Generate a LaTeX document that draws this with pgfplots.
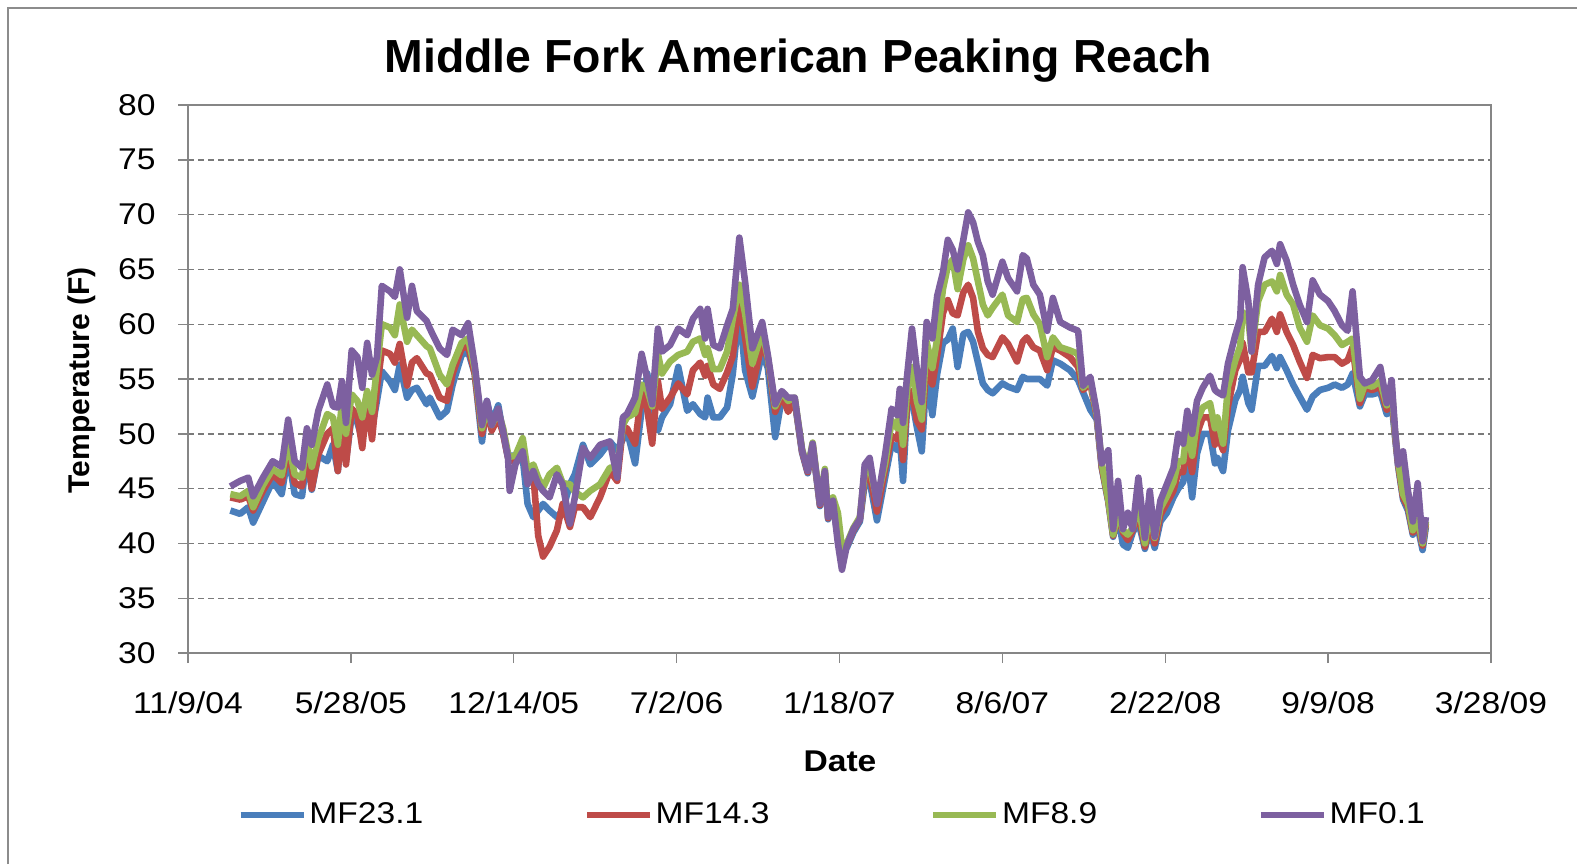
\documentclass[border=0pt]{standalone}
\usepackage{pgfplots}
\pgfplotsset{compat=1.18}
\usepackage{pgfplotstable}
\usepackage{fontspec}
\setmainfont{Liberation Sans}[FakeStretch=1.12]
\newfontfamily\plainfont{Liberation Sans}
\definecolor{cBlue}{HTML}{4A7EBB}
\definecolor{cRed}{HTML}{BE4B48}
\definecolor{cGreen}{HTML}{98B954}
\definecolor{cPurple}{HTML}{7D60A0}
\definecolor{axisgray}{HTML}{868686}
\definecolor{gridgray}{HTML}{7A7A7A}
\definecolor{framegray}{HTML}{8C8C8C}

\pgfplotstableread{
day b r g p
52 43.0 44.2 44.5 45.2
64 42.7 44.0 44.3 45.7
74 43.3 44.3 44.8 46.0
80 41.9 43.0 43.3 44.3
92 43.8 44.8 45.3 46.0
104 45.7 46.3 46.8 47.5
115 44.5 45.5 46.2 47.0
123 48.1 48.7 49.3 51.3
131 44.5 45.5 46.3 47.5
140 44.3 45.2 46.0 46.9
146 48.1 48.5 49.5 50.5
152 44.9 45.0 47.0 49.0
160 48.0 48.1 49.5 52.1
171 47.5 50.0 51.8 54.5
178 49.0 50.5 51.5 52.5
184 46.6 46.6 49.0 52.4
189 50.5 51.1 52.8 54.8
194 47.5 47.2 50.0 51.0
201 51.7 52.3 53.6 57.6
208 51.0 51.7 53.0 57.0
214 49.5 48.7 51.5 54.2
220 52.4 53.0 53.9 58.3
226 50.5 49.5 52.0 55.4
232 53.0 54.2 56.0 57.0
238 55.7 57.6 60.0 63.5
248 54.8 57.3 59.7 63.0
254 54.0 56.5 59.0 62.5
260 56.3 58.2 61.8 65.0
269 53.3 54.4 58.4 60.6
275 54.0 56.5 59.5 63.5
281 54.2 56.9 59.0 61.2
293 52.7 55.5 58.0 60.3
297 53.3 55.4 57.8 59.6
309 51.5 53.3 55.4 57.8
318 52.1 53.0 54.5 57.2
325 54.5 55.5 56.3 59.5
336 57.2 57.8 58.3 59.0
344 57.5 58.0 58.7 60.1
352 55.5 55.5 56.0 56.3
361 49.3 50.0 50.5 50.8
367 53.0 52.0 52.3 53.0
373 51.0 50.3 50.8 50.8
381 52.6 51.5 52.0 52.3
387 50.0 50.0 50.5 50.2
393 47.8 47.8 48.2 47.8
395 48.0 47.5 47.9 44.8
402 48.0 47.6 48.0 47.2
411 47.8 47.9 49.6 48.4
417 43.6 46.6 46.6 45.4
424 42.4 46.3 47.2 46.6
430 43.0 40.7 46.0 45.4
436 43.6 38.8 45.1 44.8
444 43.0 39.7 46.3 44.2
453 42.4 41.2 46.9 46.3
460 43.0 43.6 45.5 45.4
469 45.4 41.5 45.4 41.8
475 46.3 43.3 44.7 44.2
485 49.0 43.3 44.2 48.7
494 47.2 42.4 44.8 47.8
506 48.1 44.2 45.4 49.0
518 49.3 46.6 46.9 49.3
527 48.5 45.7 47.0 46.0
534 49.5 50.6 50.8 51.5
539 50.3 50.5 51.5 51.8
549 47.3 49.1 51.9 53.3
557 52.2 53.8 54.5 57.3
564 55.5 52.2 54.0 55.0
570 50.9 49.1 52.5 52.7
577 50.3 54.8 57.3 59.6
582 51.5 52.3 55.5 57.5
592 52.7 53.3 56.6 58.1
602 56.1 54.6 57.2 59.6
613 52.1 53.6 57.5 59.0
620 52.7 55.8 58.4 60.5
629 51.8 56.5 58.7 61.4
635 51.5 55.3 57.2 58.7
638 53.3 56.2 57.8 61.4
645 51.5 54.5 55.9 58.1
653 51.5 54.1 55.9 57.8
662 52.4 55.6 57.5 59.9
669 55.5 57.1 60.5 61.4
677 61.5 62.4 63.6 67.9
684 55.8 58.8 61.0 63.9
693 53.4 54.3 56.4 57.8
705 57.4 58.3 59.3 60.2
712 56.0 56.8 57.0 57.2
721 49.7 52.0 52.5 52.7
729 53.2 53.5 53.8 53.9
737 52.5 52.0 53.0 53.3
745 53.0 53.1 53.3 53.3
754 48.3 48.4 48.6 48.5
761 46.4 46.5 46.8 46.6
767 48.8 49.0 49.2 49.1
776 43.4 43.5 43.7 43.6
782 46.3 46.5 46.8 46.6
786 42.2 42.3 42.6 42.4
792 43.7 43.8 44.2 43.9
798 40.5 40.7 42.8 40.0
803 39.5 39.6 39.6 37.6
809 39.6 39.8 40.0 39.8
817 41.0 41.2 41.4 41.3
825 42.0 42.2 42.4 42.2
831 45.5 46.0 46.5 47.2
837 45.7 46.3 47.0 47.8
846 42.1 42.9 43.9 43.6
856 46.0 46.8 47.3 48.1
864 49.1 49.8 51.2 52.3
871 48.5 49.5 50.5 51.7
874 49.7 50.6 52.2 54.1
878 45.7 47.6 49.0 51.0
883 52.5 52.8 54.0 55.3
889 53.1 53.9 56.1 59.6
895 50.6 51.2 53.0 55.9
901 48.4 50.4 51.3 52.9
907 55.5 56.7 58.4 60.2
914 51.7 54.5 56.0 58.7
920 55.5 57.2 58.7 62.6
927 58.3 61.0 63.2 64.7
933 58.6 62.2 65.3 67.7
939 59.6 61.0 65.9 66.8
945 56.1 60.8 63.2 65.0
952 59.1 62.9 65.9 67.7
958 59.3 63.6 67.2 70.2
964 58.4 62.4 66.0 69.3
970 56.5 59.3 63.9 67.5
976 54.6 57.8 61.8 66.3
982 54.0 57.2 60.8 63.9
988 53.7 57.0 61.5 62.7
1000 54.6 58.8 62.7 65.7
1007 54.3 58.2 60.8 64.2
1018 54.0 56.6 60.2 63.0
1025 55.2 58.4 62.3 66.3
1030 55.0 58.8 62.4 66.0
1038 55.0 57.9 60.9 63.6
1046 55.0 57.6 60.0 62.7
1055 54.4 55.8 57.0 59.4
1062 56.7 57.9 58.8 62.4
1071 56.4 57.6 57.9 60.2
1083 55.8 57.0 57.6 59.7
1093 54.9 56.1 57.3 59.4
1099 53.8 54.0 54.2 54.4
1108 52.2 54.6 54.9 55.2
1116 51.3 51.5 51.7 51.9
1122 46.9 47.0 47.3 47.3
1130 43.8 43.9 44.0 48.5
1136 40.6 40.7 40.8 41.3
1142 42.5 42.7 43.0 45.7
1148 39.9 41.0 41.2 41.3
1154 39.6 40.3 40.8 42.8
1160 41.0 41.2 41.4 41.3
1167 42.0 42.8 43.6 46.0
1175 39.5 39.7 40.0 40.5
1181 41.3 41.9 43.0 44.8
1187 39.6 40.0 40.5 40.6
1194 42.0 42.6 43.2 43.9
1202 42.8 43.7 44.3 45.4
1210 44.2 44.8 45.6 46.9
1216 45.0 46.5 47.5 50.0
1222 45.6 46.5 47.5 49.1
1227 48.2 49.4 50.6 52.1
1233 44.2 46.5 48.0 50.0
1239 48.2 50.0 51.2 53.0
1246 50.0 51.5 52.4 54.2
1255 50.0 51.5 52.8 55.3
1261 47.3 49.0 50.5 54.0
1264 47.8 50.0 51.5 53.8
1271 46.6 48.5 49.1 53.5
1277 50.3 52.5 54.3 56.4
1286 53.1 55.8 56.7 59.0
1292 54.0 56.8 58.0 60.5
1295 55.2 58.3 61.1 65.2
1302 52.8 55.6 60.5 62.1
1306 52.2 55.6 57.5 57.5
1314 56.2 59.3 62.1 63.6
1322 56.2 59.3 63.6 66.1
1331 57.1 60.5 63.9 66.7
1337 56.0 59.3 63.0 65.5
1341 57.0 60.9 64.5 67.3
1349 55.8 59.3 62.7 65.8
1357 54.5 58.1 61.8 63.6
1365 53.4 56.6 59.7 61.8
1374 52.2 55.1 58.4 60.2
1381 53.4 57.2 60.8 64.0
1390 54.0 56.9 59.9 62.7
1400 54.2 57.0 59.6 62.1
1408 54.5 57.0 59.0 61.2
1417 54.2 56.4 58.1 59.9
1424 54.5 56.7 58.4 59.4
1430 55.5 57.9 58.7 63.0
1439 52.5 52.8 53.2 55.2
1445 53.6 54.2 54.5 54.6
1454 53.6 54.0 54.3 54.9
1464 53.8 54.3 54.8 56.1
1472 51.8 52.2 52.6 52.8
1478 52.8 53.6 54.3 54.9
1482 49.8 50.0 50.2 50.5
1486 47.0 47.2 47.5 47.2
1492 44.0 44.2 44.5 48.4
1498 43.0 43.3 43.6 44.8
1504 40.8 41.0 41.2 42.0
1510 41.5 41.8 42.3 45.5
1516 39.4 39.8 40.0 40.2
1520 41.5 41.8 42.0 42.4
}\mfdata

\begin{document}
\begin{tikzpicture}
\useasboundingbox (0,0) rectangle (788.5pt,432pt);
\draw[framegray, line width=1.3pt] (4pt,0pt) -- (4pt,428pt) -- (788.5pt,428pt);
\begin{axis}[
  at={(94pt,105.5pt)}, anchor=south west,
  scale only axis, width=651.5pt, height=274pt,
  xmin=0, xmax=1600, ymin=30, ymax=80,
  xtick={0,200,...,1600},
  xticklabels={11/9/04,5/28/05,12/14/05,7/2/06,1/18/07,8/6/07,2/22/08,9/9/08,3/28/09},
  ytick={30,35,...,80},
  xtick pos=bottom, ytick pos=left,
  tick align=outside, major tick length=5pt,
  tick style={axisgray, line width=0.7pt},
  axis line style={axisgray, line width=0.7pt},
  ymajorgrids,
  major grid style={gridgray, line width=0.7pt, dash pattern=on 3pt off 2pt},
  /pgf/number format/assume math mode=true,
  tick label style={font=\fontsize{15}{18}\selectfont, text=black},
  xticklabel style={anchor=north, inner sep=0pt, yshift=-14pt},
  yticklabel style={anchor=east, inner sep=0pt, xshift=-11pt},
  title={Middle Fork American Peaking Reach},
  title style={font=\plainfont\bfseries\fontsize{23.2}{28}\selectfont, at={(axis description cs:0.4685,1.038)}, anchor=base},
  xlabel={Date},
  xlabel style={font=\bfseries\fontsize{15}{18}\selectfont, at={(axis description cs:0.5004,-0.197)}, anchor=center},
  ylabel={Temperature (F)},
  ylabel style={font=\plainfont\bfseries\fontsize{15}{18}\selectfont, at={(axis description cs:-0.0815,0.498)}, anchor=center},
  legend style={at={(axis description cs:0.4945,-0.2956)}, anchor=center, draw=none, fill=none,
    font=\fontsize{15}{18}\selectfont, nodes={inner sep=1.2pt},
    /tikz/every even column/.append style={column sep=79pt}},
  legend columns=4,
  legend image code/.code={\draw[#1] (0pt,0pt) -- (31.5pt,0pt);},
  every axis plot/.append style={line width=3.3pt, line join=round, no markers},
]
\addplot[cBlue] table[x=day, y=b] {\mfdata};
\addlegendentry{MF23.1}
\addplot[cRed] table[x=day, y=r] {\mfdata};
\addlegendentry{MF14.3}
\addplot[cGreen] table[x=day, y=g] {\mfdata};
\addlegendentry{MF8.9}
\addplot[cPurple] table[x=day, y=p] {\mfdata};
\addlegendentry{MF0.1}
\end{axis}
\end{tikzpicture}
\end{document}
